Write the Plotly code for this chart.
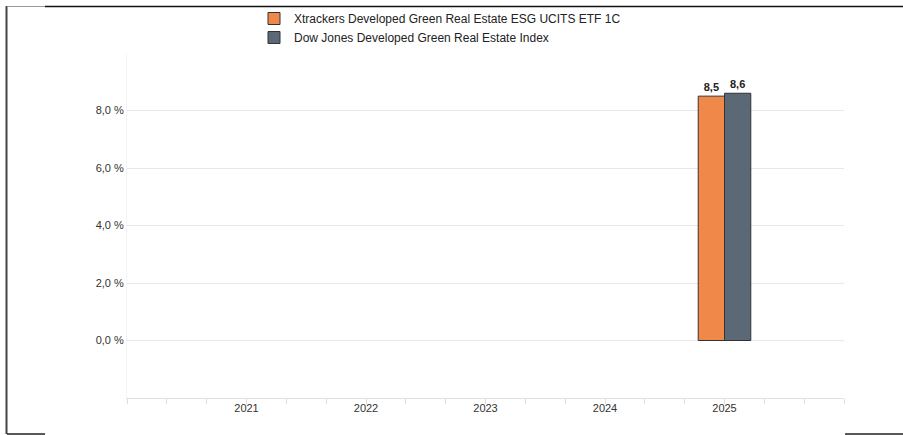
import plotly.graph_objects as go

# ---- data ----
years = [2021, 2022, 2023, 2024, 2025]
year_labels = ["2021", "2022", "2023", "2024", "2025"]
etf_name = "Xtrackers Developed Green Real Estate ESG UCITS ETF 1C"
idx_name = "Dow Jones Developed Green Real Estate Index"
etf_values = [None, None, None, None, 8.5]
idx_values = [None, None, None, None, 8.6]
y_tick_vals = [-2, 0, 2, 4, 6, 8, 10]
y_tick_text = ["", "0,0 %", "2,0 %", "4,0 %", "6,0 %", "8,0 %", ""]

W, H = 903, 435
ML, MR, MT, MB = 127, 59, 53, 37
PW, PH = W - ML - MR, H - MT - MB


def px(x):
    return (x - ML) / PW


def py(y):
    return (H - MB - y) / PH


def fmt(v):
    return "" if v is None else f"{v:.1f}".replace(".", ",")


FONT = "Arial, Liberation Sans, Helvetica, sans-serif"

fig = go.Figure()
fig.add_trace(go.Bar(
    x=years, y=etf_values, name=etf_name,
    marker=dict(color="#F0884A", line=dict(color="#333333", width=1)),
    text=[fmt(v) for v in etf_values], textposition="outside",
    textfont=dict(family=FONT, size=11, color="#222222", weight="bold"),
    cliponaxis=False,
))
fig.add_trace(go.Bar(
    x=years, y=idx_values, name=idx_name,
    marker=dict(color="#5A6975", line=dict(color="#333333", width=1)),
    text=[fmt(v) for v in idx_values], textposition="outside",
    textfont=dict(family=FONT, size=11, color="#222222", weight="bold"),
    cliponaxis=False,
))

shapes = [
    # screenshot frame lines
    dict(type="line", xref="paper", yref="paper", x0=px(6.5), x1=px(6.5), y0=py(6), y1=py(434),
         line=dict(color="#444444", width=2)),
    dict(type="line", xref="paper", yref="paper", x0=px(7), x1=px(45), y0=py(6.5), y1=py(6.5),
         line=dict(color="#9a9a9a", width=1)),
    dict(type="line", xref="paper", yref="paper", x0=px(45), x1=px(903), y0=py(6.5), y1=py(6.5),
         line=dict(color="#111111", width=1.5)),
    dict(type="line", xref="paper", yref="paper", x0=px(7), x1=px(45), y0=py(434), y1=py(434),
         line=dict(color="#222222", width=1.5)),
    dict(type="line", xref="paper", yref="paper", x0=px(845), x1=px(903), y0=py(434), y1=py(434),
         line=dict(color="#222222", width=1.5)),
]

fig.update_layout(
    width=W, height=H,
    margin=dict(l=ML, r=MR, t=MT, b=MB, autoexpand=False),
    paper_bgcolor="white", plot_bgcolor="white",
    font=dict(family=FONT, size=11, color="#333333"),
    barmode="group", bargap=0.56, bargroupgap=0,
    showlegend=True,
    legend=dict(
        orientation="v", x=px(254), y=py(4), xanchor="left", yanchor="top",
        font=dict(family=FONT, size=12, color="#222222"),
        bgcolor="rgba(0,0,0,0)", itemwidth=30,
    ),
    xaxis=dict(
        range=[2020, 2026], tickvals=years, ticktext=year_labels,
        ticks="", showgrid=False, zeroline=False,
        showline=True, linecolor="#e2e2e2", linewidth=1,
        tickfont=dict(family=FONT, size=11, color="#333333"),
        minor=dict(tick0=2020, dtick=1 / 3, ticks="outside", ticklen=5,
                   tickcolor="#dddddd", tickwidth=1, showgrid=False),
        fixedrange=True,
    ),
    yaxis=dict(
        range=[-2, 10], tickvals=y_tick_vals, ticktext=y_tick_text,
        showgrid=True, gridcolor="#e8e8e8", gridwidth=1, zeroline=False,
        showline=True, linecolor="#f4f4f4", linewidth=1,
        ticks="", tickfont=dict(family=FONT, size=11, color="#333333"),
        fixedrange=True,
    ),
    shapes=shapes,
)

fig.write_html(
    "out.html",
    config={"displayModeBar": False},
    post_script="document.body.style.margin='0';document.body.style.padding='0';"
                "document.documentElement.style.overflow='hidden';",
)
